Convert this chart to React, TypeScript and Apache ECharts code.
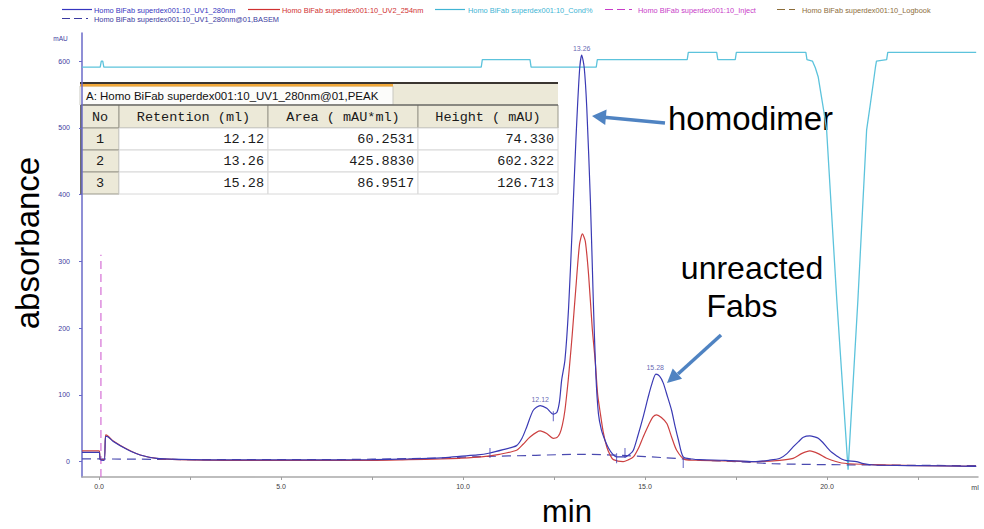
import React, { useEffect, useRef } from "react";
import * as echarts from "echarts";

const X_MIN = -0.47;
const X_MAX = 24.15;
const Y_MIN = -23;
const Y_MAX = 642;

const xTickValues = [0, 2.5, 5, 7.5, 10, 12.5, 15, 17.5, 20, 22.5];
const xLabelValues = [0, 5, 10, 15, 20];
const yLabelValues = [0, 100, 200, 300, 400, 500, 600];

const uv1Data = [
  [-0.47, 14], [0.0, 14], [0.03, 3], [0.14, 2], [0.18, 38], [0.25, 37], [0.39, 30], [0.76, 18.5],
  [1.13, 10], [1.58, 5], [2.2, 3.5], [3.5, 2.5], [5.5, 2.5], [7.5, 3], [8.5, 4], [9.4, 5.5],
  [9.9, 8], [10.4, 10], [10.74, 13], [11.1, 18], [11.47, 24], [11.62, 35], [11.75, 52], [11.93, 77],
  [12.12, 84], [12.3, 80], [12.48, 71], [12.58, 74], [12.65, 90], [12.71, 122], [12.8, 152], [12.9, 230],
  [13.0, 350], [13.1, 480], [13.2, 585], [13.26, 609], [13.33, 590], [13.4, 530], [13.5, 390], [13.58, 240],
  [13.65, 130], [13.72, 72], [13.8, 48], [13.9, 32], [14.0, 20], [14.1, 12], [14.22, 7], [14.45, 7],
  [14.6, 12], [14.68, 17], [14.8, 38], [14.95, 67], [15.08, 95], [15.18, 115], [15.3, 131], [15.4, 128],
  [15.5, 118], [15.62, 97], [15.73, 77], [15.83, 52], [15.92, 32], [16.05, 7], [16.3, 4], [16.5, 3],
  [17.2, 2], [18.0, 0], [18.4, 2], [18.71, 5], [18.9, 12], [19.07, 22], [19.22, 30], [19.35, 36.5],
  [19.53, 38.5], [19.66, 37], [19.76, 35], [19.88, 29], [19.99, 22], [20.13, 14], [20.27, 8.5], [20.4, 4],
  [20.54, 1.5], [20.81, 0], [21.0, -3], [21.3, -5], [22.5, -6], [24.1, -7],
];

const uv2Data = [
  [-0.47, 16], [0.0, 16], [0.03, 4], [0.14, 3], [0.18, 40], [0.25, 38], [0.39, 31], [0.76, 19],
  [1.13, 10], [1.58, 5], [2.2, 3], [3.5, 2], [5.5, 2], [7.5, 2], [8.5, 3], [9.4, 4],
  [9.9, 5], [10.5, 7], [11.0, 11], [11.47, 17], [11.65, 26], [11.84, 37], [12.12, 46], [12.3, 42],
  [12.48, 35], [12.58, 36], [12.66, 42], [12.73, 55], [12.8, 77], [12.89, 122], [12.94, 152], [13.0, 190],
  [13.1, 260], [13.2, 325], [13.28, 341], [13.36, 330], [13.45, 280], [13.55, 200], [13.63, 152], [13.7, 100],
  [13.76, 77], [13.85, 45], [13.95, 22], [14.05, 9], [14.13, 3], [14.4, 0], [14.55, 3], [14.68, 7],
  [14.82, 20], [14.95, 37], [15.1, 55], [15.22, 67], [15.32, 70], [15.45, 66], [15.6, 57], [15.73, 37],
  [15.87, 17], [16.1, 3], [16.5, 2], [17.2, 1], [18.0, 0], [18.7, 2], [19.07, 5], [19.3, 12],
  [19.53, 16], [19.76, 12], [19.99, 5], [20.4, -2], [21.0, -4], [22.5, -6], [24.1, -7],
];

const condData = [
  [-0.47, 591], [0.03, 591], [0.06, 600], [0.1, 600], [0.13, 591], [10.5, 591], [10.53, 602], [11.84, 602],
  [11.87, 591], [13.66, 591], [13.69, 602], [16.16, 602], [16.19, 613], [16.97, 613], [17.0, 602], [17.48, 602],
  [17.51, 613], [19.42, 613], [19.45, 602], [19.6, 600], [19.68, 590], [19.76, 576], [19.85, 546], [19.94, 516],
  [19.99, 497], [20.27, 242], [20.58, -12], [20.85, 242], [21.09, 497], [21.18, 531], [21.27, 566], [21.33, 590],
  [21.36, 600], [21.64, 602], [21.67, 613], [24.1, 613],
];

const basemData = [
  [-0.47, 4], [0.0, 4], [3, 3], [6, 3], [9, 5], [10.5, 7.5], [12, 9.5], [13.3, 11],
  [14.5, 9], [15.5, 6], [16.5, 2.5], [17.5, 0], [18.5, -3], [20, -4.5], [24.1, -6],
];

const injectData = [[0.05, -23], [0.05, 310]];

const peakLabels = [[12.12, 84, "12.12"], [13.26, 609, "13.26"], [15.28, 131, "15.28"]];
const peakMarks = [[10.74, 13], [12.48, 68], [14.22, 5], [14.45, 13], [16.05, -2]];

const legendNames = [
  "Homo BiFab superdex001:10_UV1_280nm",
  "Homo BiFab superdex001:10_UV2_254nm",
  "Homo BiFab superdex001:10_Cond%",
  "Homo BiFab superdex001:10_Inject",
  "Homo BiFab superdex001:10_Logbook",
  "Homo BiFab superdex001:10_UV1_280nm@01,BASEM",
];

const tableTitle = "A: Homo BiFab superdex001:10_UV1_280nm@01,PEAK";
const tableHeaders = ["No", "Retention (ml)", "Area ( mAU*ml)", "Height ( mAU)"];
const tableRows = [
  ["1", "12.12", "60.2531", "74.330"],
  ["2", "13.26", "425.8830", "602.322"],
  ["3", "15.28", "86.9517", "126.713"],
];

const C_UV1 = "#3a3ab4";
const C_UV2 = "#cc4040";
const C_COND = "#5cc3dc";
const C_INJ = "#d56ed5";
const C_LOG = "#8c6d3a";
const C_BASE = "#4a4ab0";
const C_ARROW = "#4f83c2";

function buildGraphics() {
  const g: any[] = [];
  const sans = "Liberation Sans, Arial, sans-serif";
  const mono = "Liberation Mono, Courier New, monospace";

  // legend
  const r1 = 10.5;
  const r2 = 19.5;
  const leg = [
    { i: 0, color: "#3535c0", dash: false, lx: 62, lw: 30, tx: 94, y: r1 },
    { i: 1, color: "#d03030", dash: false, lx: 248, lw: 32, tx: 282, y: r1 },
    { i: 2, color: "#40b4d4", dash: false, lx: 435, lw: 30, tx: 468, y: r1 },
    { i: 3, color: "#c83cc8", dash: true, lx: 605, lw: 27, tx: 638, y: r1 },
    { i: 4, color: C_LOG, dash: true, lx: 777, lw: 18, tx: 802, y: r1 },
    { i: 5, color: "#3a3aa0", dash: true, lx: 62, lw: 26, tx: 94, y: r2 },
  ];
  leg.forEach((L) => {
    const st: any = { stroke: L.color, lineWidth: 1.2 };
    if (L.dash) st.lineDash = [8, 4];
    g.push({
      type: "line",
      shape: { x1: L.lx, y1: L.y - 1, x2: L.lx + L.lw, y2: L.y - 1 },
      style: st,
    });
    g.push({
      type: "text",
      x: L.tx,
      y: L.y,
      style: {
        text: legendNames[L.i],
        fill: L.color,
        font: `7.4px ${sans}`,
        textVerticalAlign: "middle",
        textAlign: "left",
      },
    });
  });

  // axis extra labels
  g.push({
    type: "text", x: 60.5, y: 38,
    style: { text: "mAU", fill: "#3c3ca0", font: `6.5px ${sans}`, textAlign: "center", textVerticalAlign: "middle" },
  });
  g.push({
    type: "text", x: 975, y: 487,
    style: { text: "ml", fill: "#404040", font: `7px ${sans}`, textAlign: "center", textVerticalAlign: "middle" },
  });

  // big titles
  g.push({
    type: "text", x: 567, y: 511,
    style: { text: "min", fill: "#000", font: `31px ${sans}`, textAlign: "center", textVerticalAlign: "middle" },
  });
  g.push({
    type: "text", x: 27, y: 243, rotation: Math.PI / 2,
    style: { text: "absorbance", fill: "#000", font: `33px ${sans}`, textAlign: "center", textVerticalAlign: "middle" },
  });

  // annotations
  g.push({
    type: "text", x: 668, y: 118,
    style: { text: "homodimer", fill: "#000", font: `33px ${sans}`, textAlign: "left", textVerticalAlign: "middle" },
  });
  g.push({
    type: "text", x: 752, y: 268,
    style: { text: "unreacted", fill: "#000", font: `32px ${sans}`, textAlign: "center", textVerticalAlign: "middle" },
  });
  g.push({
    type: "text", x: 742, y: 306,
    style: { text: "Fabs", fill: "#000", font: `32px ${sans}`, textAlign: "center", textVerticalAlign: "middle" },
  });
  // arrow 1
  g.push({
    type: "line", shape: { x1: 665, y1: 123, x2: 604, y2: 117.2 },
    style: { stroke: C_ARROW, lineWidth: 3.5 },
  });
  g.push({
    type: "polygon", shape: { points: [[592, 116], [606.6, 109.6], [605.2, 125]] },
    style: { fill: C_ARROW },
  });
  // arrow 2
  g.push({
    type: "line", shape: { x1: 721, y1: 335, x2: 678, y2: 374 },
    style: { stroke: C_ARROW, lineWidth: 3.5 },
  });
  g.push({
    type: "polygon", shape: { points: [[667, 383], [682.1, 378.8], [672.7, 368.4]] },
    style: { fill: C_ARROW },
  });

  // table
  const tx0 = 80, tx1 = 558;
  g.push({ type: "rect", shape: { x: 393, y: 84, width: tx1 - 393, height: 21 }, style: { fill: "#ece9d8" } });
  g.push({ type: "rect", shape: { x: tx0, y: 86, width: 313, height: 19 }, style: { fill: "#fcfcfa", stroke: "#c8c8c0", lineWidth: 1 } });
  g.push({ type: "rect", shape: { x: tx0, y: 84, width: 313, height: 2.5 }, style: { fill: "#f2a93a" } });
  g.push({ type: "rect", shape: { x: tx0, y: 82, width: tx1 - tx0, height: 2 }, style: { fill: "#3a3530" } });
  g.push({
    type: "text", x: 86, y: 96,
    style: { text: tableTitle, fill: "#111", font: `11.5px ${sans}`, textAlign: "left", textVerticalAlign: "middle" },
  });
  const cols = [81, 119, 268, 418, 558];
  const rowsY = [105, 128, 150, 172, 194];
  for (let r = 0; r < 4; r++) {
    for (let c = 0; c < 4; c++) {
      const isHead = r === 0 || c === 0;
      g.push({
        type: "rect",
        shape: { x: cols[c], y: rowsY[r], width: cols[c + 1] - cols[c], height: rowsY[r + 1] - rowsY[r] },
        style: { fill: isHead ? "#ece9d8" : "#ffffff", stroke: isHead ? "#9a988c" : "#d8d8d8", lineWidth: 1 },
      });
      const text = r === 0 ? tableHeaders[c] : tableRows[r - 1][c];
      const center = r === 0 || c === 0;
      g.push({
        type: "text",
        x: center ? (cols[c] + cols[c + 1]) / 2 : cols[c + 1] - 4,
        y: (rowsY[r] + rowsY[r + 1]) / 2 + 0.5,
        style: {
          text,
          fill: "#1a1a1a",
          font: `13.5px ${mono}`,
          textAlign: center ? "center" : "right",
          textVerticalAlign: "middle",
        },
      });
    }
  }
  g.push({ type: "line", shape: { x1: 81, y1: 105, x2: 81, y2: 194 }, style: { stroke: "#505050", lineWidth: 1.5 } });
  g.push({ type: "line", shape: { x1: 81, y1: 105, x2: 558, y2: 105 }, style: { stroke: "#505050", lineWidth: 1.2 } });
  return g;
}

export default function App() {
  const ref = useRef<HTMLDivElement>(null);
  useEffect(() => {
    document.body.style.margin = "0";
    if (!ref.current) return;
    const chart = echarts.init(ref.current, null, { renderer: "svg" });
    const lineBase = { type: "line", showSymbol: false, symbol: "none", silent: true };
    chart.setOption({
      animation: false,
      backgroundColor: "#ffffff",
      grid: { left: 82, right: 6, top: 33, bottom: 52 },
      xAxis: {
        type: "value",
        min: X_MIN,
        max: X_MAX,
        axisLine: { show: true, onZero: false, lineStyle: { color: "#a8a8a8", width: 1.5 } },
        axisTick: { show: true, customValues: xTickValues, length: 3, lineStyle: { color: "#a0a0a0" } },
        axisLabel: {
          customValues: xLabelValues,
          formatter: (v: number) => v.toFixed(1),
          fontSize: 7,
          color: "#404040",
          margin: 6,
          fontFamily: "Liberation Sans, Arial, sans-serif",
        },
        splitLine: { show: false },
      },
      yAxis: {
        type: "value",
        min: Y_MIN,
        max: Y_MAX,
        axisLine: { show: true, onZero: false, lineStyle: { color: "#6a6ac8", width: 1.5 } },
        axisTick: { show: true, customValues: yLabelValues, length: 3, lineStyle: { color: "#6a6ac8" } },
        axisLabel: {
          customValues: yLabelValues,
          fontSize: 7,
          color: "#3c3ca0",
          margin: 12,
          fontFamily: "Liberation Sans, Arial, sans-serif",
        },
        splitLine: { show: false },
      },
      series: [
        { ...lineBase, name: legendNames[2], data: condData, lineStyle: { color: C_COND, width: 1.3 }, z: 2 },
        { ...lineBase, name: legendNames[5], data: basemData, smooth: 0.3, lineStyle: { color: C_BASE, width: 1.2, type: [9, 6] }, z: 3 },
        { ...lineBase, name: legendNames[3], data: injectData, lineStyle: { color: C_INJ, width: 1.2, type: [8, 5] }, z: 3 },
        { ...lineBase, name: legendNames[1], data: uv2Data, smooth: 0.25, lineStyle: { color: C_UV2, width: 1.2 }, z: 4 },
        { ...lineBase, name: legendNames[0], data: uv1Data, smooth: 0.25, lineStyle: { color: C_UV1, width: 1.2 }, z: 5 },
        {
          type: "scatter",
          name: "marks",
          data: peakMarks,
          symbol: "rect",
          symbolSize: [1, 10],
          itemStyle: { color: C_UV1 },
          silent: true,
          z: 6,
        },
        {
          type: "scatter",
          name: "peaks",
          data: peakLabels,
          symbolSize: 0,
          silent: true,
          label: {
            show: true,
            position: "top",
            distance: 3,
            formatter: (p: any) => p.data[2],
            fontSize: 7,
            color: "#3c3ca0",
            fontFamily: "Liberation Sans, Arial, sans-serif",
          },
          z: 6,
        },
      ],
      graphic: buildGraphics(),
    });
    return () => chart.dispose();
  }, []);
  return <div ref={ref} style={{ width: 984, height: 529 }} />;
}
